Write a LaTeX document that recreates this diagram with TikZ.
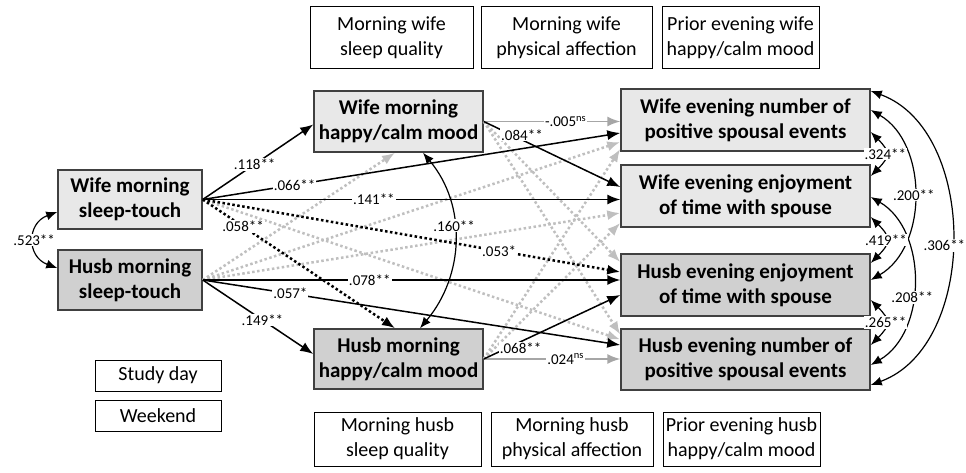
\documentclass[tikz,border=0pt]{standalone}
\usepackage{fontspec}
\setmainfont{Carlito}
\usetikzlibrary{arrows.meta}
\definecolor{wifefill}{HTML}{E8E8E8}
\definecolor{husbfill}{HTML}{D0D0D0}
\definecolor{boxline}{HTML}{404040}
\definecolor{nsgrey}{HTML}{BFBFBF}
\definecolor{nssolid}{HTML}{A6A6A6}

\begin{document}
\begin{tikzpicture}
		[x=1pt,y=1pt,
		wbox/.style={draw=boxline,line width=1.5pt,fill=wifefill,align=center,inner sep=0pt,font=\bfseries\fontsize{21}{25}\selectfont},
		hbox/.style={wbox,fill=husbfill},
		cbox/.style={draw,line width=1pt,fill=white,align=center,inner sep=0pt,font=\fontsize{20}{25}\selectfont},
		lbl/.style={fill=white,inner sep=1pt,font=\fontsize{15}{18}\selectfont},
		edge/.style={-{Latex[length=13pt,width=10pt]},line width=1.5pt},
		sigdot/.style={edge,line width=2.5pt,dash pattern=on 2.5pt off 2.5pt},
		nsdot/.style={edge,draw=nsgrey,line width=2.5pt,dash pattern=on 2.5pt off 2.5pt},
		nsedge/.style={edge,draw=nssolid},
		cov/.style={{Latex[length=11pt,width=9pt]}-{Latex[length=11pt,width=9pt]},line width=1.2pt}]
		\useasboundingbox (0,0) rectangle (966,-473);
		
		\node[wbox,minimum width=144pt,minimum height=59pt] (WST) at (130,-199.5) {Wife morning\\sleep-touch};
		\node[hbox,minimum width=144pt,minimum height=60pt] (HST) at (130,-280) {Husb morning\\sleep-touch};
		\node[wbox,minimum width=169pt,minimum height=61pt] (WMM) at (398.5,-121.5) {Wife morning\\happy/calm mood};
		\node[hbox,minimum width=169pt,minimum height=60pt] (HMM) at (398.5,-359) {Husb morning\\happy/calm mood};
		\node[wbox,minimum width=249pt,minimum height=62pt] (WEP) at (745.5,-120) {Wife evening number of\\positive spousal events};
		\node[wbox,minimum width=249pt,minimum height=62pt] (WEE) at (745.5,-196) {Wife evening enjoyment\\of time with spouse};
		\node[hbox,minimum width=249pt,minimum height=62pt] (HEE) at (745.5,-285) {Husb evening enjoyment\\of time with spouse};
		\node[hbox,minimum width=249pt,minimum height=61pt] (HEP) at (745.5,-359.5) {Husb evening number of\\positive spousal events};
		
		\node[cbox,minimum width=163pt,minimum height=62pt] (wsleep) at (391.5,-38) {Morning wife\\sleep quality};
		\node[cbox,minimum width=171pt,minimum height=62pt] (waffect) at (566.5,-38) {Morning wife\\physical affection};
		\node[cbox,minimum width=157pt,minimum height=62pt] (wprior) at (740.5,-38) {Prior evening wife\\happy/calm mood};
		\node[cbox,minimum width=167pt,minimum height=54pt] (hsleep) at (397.5,-439) {Morning husb\\sleep quality};
		\node[cbox,minimum width=162pt,minimum height=54pt] (haffect) at (572,-439) {Morning husb\\physical affection};
		\node[cbox,minimum width=157pt,minimum height=54pt] (hprior) at (741.5,-439) {Prior evening husb\\happy/calm mood};
		\node[cbox,minimum width=126pt,minimum height=31pt] (day) at (158,-375.5) {Study day};
		\node[cbox,minimum width=126pt,minimum height=31pt] (wkend) at (158,-415.5) {Weekend};
		
		% non-significant paths
		\draw[nsdot] (HST.east) -- ([xshift=-3.5pt]WMM.south);
		\foreach \from/\to/\dy in {HST/WEP/-22,HST/WEE/-17,WST/HEP/20,WMM/HEE/23,WMM/HEP/25,HMM/WEP/-29,HMM/WEE/-27}
		\draw[nsdot] (\from.east) -- ([yshift=\dy pt]\to.west);
		\draw[nsedge] (WMM.east) -- (WEP.west |- WMM.east) node[lbl,pos=.6] {-.005\textsuperscript{ns}};
		\draw[nsedge] (HMM.east) -- (HEP.west |- HMM.east) node[lbl,pos=.6] {.024\textsuperscript{ns}};
		
		% significant paths
		\draw[edge] (WST.east) -- ([yshift=-3pt]WMM.west) node[lbl,pos=.47] {.118**};
		\draw[edge] (WST.east) -- ([yshift=-13pt]WEP.west) node[lbl,pos=.22] {.066**};
		\draw[edge] (WST.east) -- (WEE.west |- WST.east) node[lbl,pos=.41] {.141**};
		\draw[sigdot] (WST.east) -- ([xshift=-3.5pt]HMM.north) node[lbl,pos=.21] {.058**};
		\draw[sigdot] (WST.east) -- ([yshift=13pt]HEE.west) node[lbl,pos=.71] {.053*};
		\draw[edge] (HST.east) -- ([yshift=5pt]HMM.west) node[lbl,pos=.54] {.149**};
		\draw[edge] (HST.east) -- (HEE.west |- HST.east) node[lbl,pos=.4] {.078**};
		\draw[edge] (HST.east) -- ([yshift=14.5pt]HEP.west) node[lbl,pos=.21] {.057*};
		\draw[edge] (WMM.east) -- ([yshift=9pt]WEE.west) node[lbl,pos=.28,yshift=5pt] {.084**};
		\draw[edge] (HMM.east) -- ([yshift=-10pt]HEE.west) node[lbl,pos=.27,yshift=-7pt] {.068**};
		
		% correlations
		\draw[cov] ([yshift=-12.5pt]WST.west) to[out=200,in=160,looseness=1.5] node[lbl] {.523**} ([yshift=12pt]HST.west);
		\draw[cov] ([xshift=24.5pt]WMM.south) to[out=-50,in=50] node[lbl,pos=.42] {.160**} ([xshift=21.5pt]HMM.north);
		\draw[cov] ([yshift=29pt]WEP.east) to[out=-20,in=20] node[lbl,pos=.52,xshift=-7pt] {.306**} ([yshift=-25.5pt]HEP.east);
		\draw[cov] ([yshift=10pt]WEP.east) to[out=-30,in=30] node[lbl] {.200**} ([yshift=5pt]HEE.east);
		\draw[cov] ([yshift=-1pt]WEE.east) to[out=-30,in=30] node[lbl,pos=.58] {.208**} ([yshift=-5.5pt]HEP.east);
		\draw[cov] ([yshift=-12pt]WEP.east) to[out=-45,in=45,looseness=1.6] node[lbl] {.324**} ([yshift=20pt]WEE.east);
		\draw[cov] ([yshift=-21pt]WEE.east) to[out=-45,in=45,looseness=1.6] node[lbl] {.419**} ([yshift=22pt]HEE.east);
		\draw[cov] ([yshift=-15pt]HEE.east) to[out=-45,in=45,looseness=1.6] node[lbl] {.265**} ([yshift=14.5pt]HEP.east);
		\end{tikzpicture}
\end{document}
